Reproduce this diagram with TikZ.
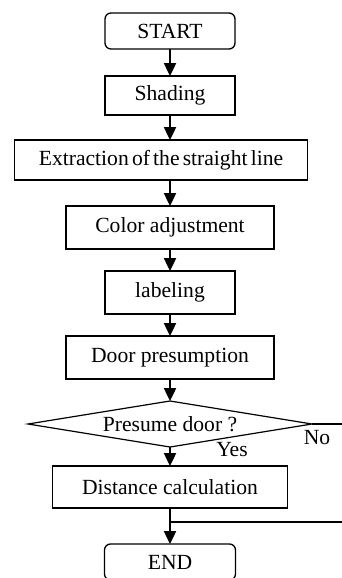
\documentclass[tikz,border=0pt]{standalone}
\usepackage{fontspec}
\setmainfont{Liberation Serif}
\usetikzlibrary{shapes.geometric,positioning,arrows.meta}

\begin{document}
\begin{tikzpicture}[font=\fontsize{10.8}{12.5}\selectfont,
            term/.style={
                rectangle, rounded corners=3pt, draw, line width=0.65pt,
                minimum width=65pt, minimum height=18pt, inner sep=0pt, outer sep=0pt},
            proc/.style={
                rectangle, draw, line width=0.65pt, minimum height=21.5pt,
                inner sep=0pt, outer sep=0pt},
            decide/.style={
                diamond, draw, line width=0.6pt, aspect=6.17,
                minimum width=142pt, minimum height=23pt, inner sep=0pt, outer sep=0pt},
            flow/.style={line width=1.2pt, -{Triangle[width=6pt,length=6.5pt]}},
            joinline/.style={line width=1.2pt}]

            \clip (0,0) rectangle (171pt,-289pt);

            \node [term] (start) at (85pt,-15.5pt) {START};
            \node [proc,minimum width=65pt,minimum height=19.5pt,below=13.5pt of start] (shade) {Shading};
            \node [proc,minimum width=146.5pt,minimum height=20pt,below=12.5pt of shade,xshift=-4.5pt] (extract) {\spaceskip=1.6pt Extraction of the straight line};
            \node [proc,minimum width=104pt,below=13pt of extract,xshift=4.5pt] (color) {Color adjustment};
            \node [proc,minimum width=65pt,below=11pt of color] (label) {labeling};
            \node [proc,minimum width=104pt,below=11pt of label] (door) {Door presumption};
            \node [decide,below=11pt of door] (dia) {Presume door ?};
            \node [proc,minimum width=117.5pt,minimum height=21pt,below=9.5pt of dia] (dist) {Distance calculation};
            \node [term,minimum width=65.5pt,below=18pt of dist] (endn) {END};

            \node (yes) at ([xshift=31pt,yshift=-1.5pt]dia.south) {Yes};
            \node (no) at ([xshift=2.5pt,yshift=-7pt]dia.east) {No};

            \coordinate (merge) at ([yshift=-7pt]dist.south);

            \draw [flow] (start) -- (shade);
            \draw [flow] (shade.south) -- (shade.south |- extract.north);
            \draw [flow] (color.north |- extract.south) -- (color.north);
            \draw [flow] (color) -- (label);
            \draw [flow] (label) -- (door);
            \draw [flow] (door) -- (dia);
            \draw [flow] (dia) -- (dist);
            \draw [joinline] (dist.south) -- (merge);
            \draw [flow] (merge) -- (endn);
            \draw [joinline] (dia.east) -- ++(25pt,0) |- (merge);

        \end{tikzpicture}
\end{document}
